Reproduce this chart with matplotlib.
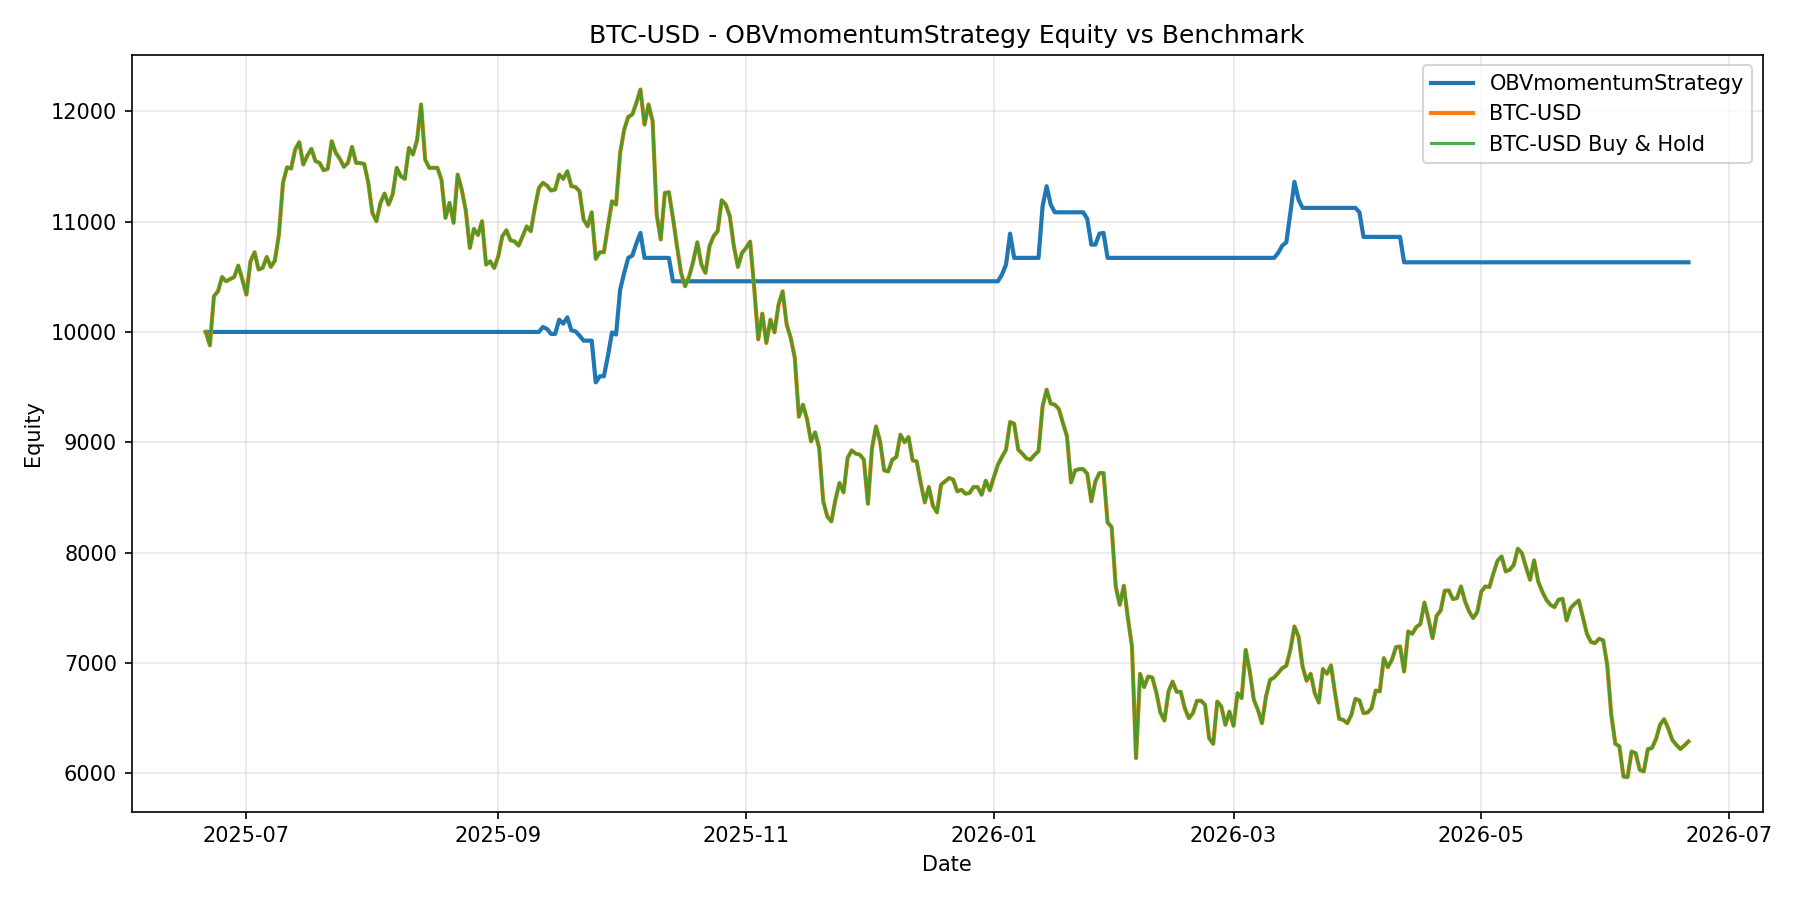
import matplotlib
matplotlib.use("Agg")
import matplotlib.pyplot as plt
import pandas as pd

ticker = "BTC-USD"
strategy_name = "OBVmomentumStrategy"
start_date = "2025-06-21"

# benchmark equity, one value per day from start_date
benchmark_equity = [
    10000, 9879, 10323, 10368, 10498, 10459, 10478, 10498, 10601, 10474,
    10338, 10640, 10722, 10565, 10580, 10680, 10589, 10646, 10882, 11351,
    11492, 11480, 11653, 11719, 11517, 11598, 11659, 11547, 11532, 11465,
    11477, 11728, 11623, 11568, 11496, 11532, 11677, 11532, 11530, 11523,
    11351, 11079, 11003, 11169, 11254, 11154, 11245, 11487, 11411, 11387,
    11668, 11607, 11737, 12061, 11562, 11487, 11487, 11487, 11381, 11033,
    11169, 10988, 11426, 11290, 11100, 10761, 10934, 10878, 11003, 10610,
    10640, 10580, 10685, 10867, 10921, 10830, 10821, 10782, 10867, 10957,
    10912, 11124, 11305, 11351, 11326, 11281, 11290, 11426, 11387, 11456,
    11320, 11314, 11275, 11018, 10957, 11084, 10662, 10722, 10722, 10957,
    11184, 11154, 11623, 11834, 11949, 11970, 12076, 12197, 11879, 12061,
    11909, 11063, 10837, 11260, 11266, 11033, 10776, 10535, 10414, 10504,
    10640, 10812, 10610, 10535, 10776, 10867, 10912, 11193, 11154, 11048,
    10776, 10589, 10716, 10761, 10818, 10400, 9933, 10166, 9900, 10111,
    9996, 10248, 10368, 10066, 9946, 9764, 9232, 9341, 9211, 9008,
    9090, 8948, 8464, 8328, 8283, 8480, 8631, 8546, 8858, 8927,
    8897, 8888, 8842, 8443, 8948, 9144, 9008, 8745, 8736, 8842,
    8867, 9069, 9000, 9048, 8836, 8827, 8631, 8455, 8595, 8425,
    8364, 8616, 8646, 8676, 8661, 8555, 8570, 8534, 8540, 8595,
    8595, 8525, 8652, 8564, 8685, 8797, 8867, 8933, 9184, 9169,
    8933, 8897, 8855, 8842, 8885, 8920, 9326, 9477, 9350, 9341,
    9302, 9175, 9054, 8636, 8745, 8757, 8757, 8715, 8464, 8646,
    8722, 8722, 8274, 8232, 7694, 7528, 7700, 7407, 7150, 6138,
    6902, 6782, 6878, 6869, 6733, 6551, 6479, 6742, 6832, 6739,
    6739, 6591, 6500, 6546, 6658, 6658, 6621, 6319, 6268, 6651,
    6606, 6440, 6560, 6431, 6727, 6682, 7120, 6923, 6667, 6576,
    6455, 6697, 6848, 6869, 6909, 6954, 6975, 7120, 7331, 7240,
    6968, 6839, 6902, 6727, 6642, 6945, 6902, 6978, 6727, 6494,
    6485, 6455, 6530, 6676, 6661, 6546, 6551, 6591, 6751, 6742,
    7044, 6962, 7029, 7144, 7150, 6923, 7286, 7264, 7326, 7352,
    7548, 7398, 7225, 7428, 7476, 7655, 7658, 7579, 7588, 7694,
    7558, 7467, 7407, 7461, 7648, 7694, 7688, 7815, 7927, 7966,
    7830, 7845, 7890, 8036, 7996, 7869, 7754, 7930, 7739, 7648,
    7573, 7528, 7506, 7573, 7582, 7386, 7498, 7537, 7567, 7416,
    7265, 7190, 7180, 7220, 7205, 6984, 6530, 6268, 6244, 5971,
    5965, 6198, 6183, 6032, 6017, 6220, 6229, 6310, 6440, 6491,
    6410, 6304, 6259, 6220, 6253, 6289,
]

# strategy equity: day offset from start_date -> value at each change point
strategy_days = [
    0, 82, 83, 84, 85, 86, 87, 88, 89, 90, 91, 92, 93, 94, 95, 96,
    97, 98, 99, 100, 101, 102, 103, 104, 105, 106, 107, 108, 114, 115,
    195, 196, 197, 198, 199, 205, 206, 207, 208, 209, 216, 217, 218, 219,
    220, 221, 222, 263, 264, 265, 266, 267, 268, 269, 270, 283, 284, 285,
    294, 295, 365,
]
strategy_vals = [
    10000, 10000, 10045, 10027, 9982, 9982, 10111, 10075, 10132, 10014, 10005, 9967, 9921, 9921, 9921, 9543,
    9598, 9598, 9785, 9996, 9976, 10383, 10535, 10671, 10692, 10801, 10897, 10671, 10671, 10459,
    10459, 10520, 10610, 10891, 10671, 10671, 11139, 11320, 11154, 11084, 11084, 11024, 10791, 10791,
    10891, 10897, 10671, 10671, 10716, 10782, 10812, 11079, 11360, 11199, 11124, 11124, 11084, 10861,
    10861, 10631, 10631,
]

t0 = pd.Timestamp(start_date)
bench_dates = pd.date_range(t0, periods=len(benchmark_equity), freq="D")
strat_dates = [t0 + pd.Timedelta(days=d) for d in strategy_days]

fig, ax = plt.subplots(figsize=(12, 6), dpi=150)
ax.plot(strat_dates, strategy_vals, label=strategy_name, color="C0", lw=2)
ax.plot(bench_dates, benchmark_equity, label=ticker, color="C1", lw=2)
ax.plot(bench_dates, benchmark_equity, label=f"{ticker} Buy & Hold", color="C2",
        lw=1.5, alpha=0.85)
ax.set_title(f"{ticker} - {strategy_name} Equity vs Benchmark")
ax.set_xlabel("Date")
ax.set_ylabel("Equity")
ax.grid(alpha=0.3)
ax.legend(loc="upper right")
fig.tight_layout()
fig.subplots_adjust(top=0.9388, bottom=0.0982)
fig.savefig("out.png", dpi=150)
